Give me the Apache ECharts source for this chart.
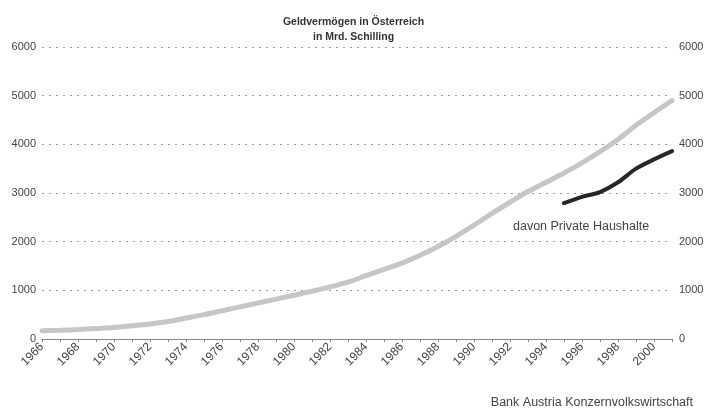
<!DOCTYPE html>
<html><head><meta charset="utf-8">
<script src="https://cdn.jsdelivr.net/npm/echarts@6/dist/echarts.min.js"></script>
<style>html,body{margin:0;padding:0;background:#fff}#c{width:707px;height:408px}</style>
</head><body><div id="c"></div>
<script>
const years = ['1966','1967','1968','1969','1970','1971','1972','1973','1974','1975','1976','1977','1978','1979','1980','1981','1982','1983','1984','1985','1986','1987','1988','1989','1990','1991','1992','1993','1994','1995','1996','1997','1998','1999','2000','2001'];
const gesamt = [170,180,195,215,235,270,310,360,430,500,580,660,740,820,900,980,1070,1170,1300,1430,1560,1720,1900,2110,2340,2580,2810,3030,3220,3410,3620,3850,4100,4390,4650,4900];
const privat = [null,null,null,null,null,null,null,null,null,null,null,null,null,null,null,null,null,null,null,null,null,null,null,null,null,null,null,null,null,2790,2920,3020,3220,3500,3690,3860];
const yTicks = [0,1000,2000,3000,4000,5000,6000];
const titleText = 'Geldvermögen in Österreich\nin Mrd. Schilling';
const noteText = 'davon Private Haushalte';
const sourceText = 'Bank Austria Konzernvolkswirtschaft';

const font = '"Liberation Sans",Arial,sans-serif';
const chart = echarts.init(document.getElementById('c'));
const yLabel = {color:'#444', fontSize:11, fontFamily:font, formatter:v=>String(v)};
chart.setOption({
  animation:false,
  backgroundColor:'#fff',
  title:{text:titleText, left:'center', top:10, textStyle:{fontSize:10.5, fontWeight:'bold', color:'#333', fontFamily:font, lineHeight:15}},
  grid:{left:42, right:35, top:47, bottom:69},
  xAxis:{type:'category', data:years, boundaryGap:false,
    axisLine:{lineStyle:{color:'#888', width:1}},
    axisTick:{show:true, interval:0, length:3, lineStyle:{color:'#888'}},
    axisLabel:{interval:1, rotate:45, color:'#444', fontSize:12, fontFamily:font, margin:6}
  },
  yAxis:[
    {type:'value', min:yTicks[0], max:yTicks[yTicks.length-1], interval:1000,
     axisLine:{show:false}, axisTick:{show:false},
     splitLine:{lineStyle:{type:[2,5], color:'#999', width:1}},
     axisLabel:Object.assign({margin:6}, yLabel)},
    {type:'value', min:yTicks[0], max:yTicks[yTicks.length-1], interval:1000, position:'right',
     axisLine:{show:false}, axisTick:{show:false}, splitLine:{show:false},
     axisLabel:Object.assign({margin:7}, yLabel)}
  ],
  series:[
    {type:'line', data:gesamt, symbol:'none', smooth:0.3, lineStyle:{color:'#c6c6c6', width:5, cap:'round'}, z:2},
    {type:'line', data:privat, symbol:'none', smooth:0.3, lineStyle:{color:'#262626', width:4, cap:'round'}, z:3}
  ],
  graphic:[
    {type:'text', left:513, top:220, style:{text:noteText, fill:'#444', fontSize:12.5, fontFamily:font}},
    {type:'text', right:14, top:396, style:{text:sourceText, fill:'#444', fontSize:12.5, fontFamily:font}}
  ]
});
</script></body></html>
